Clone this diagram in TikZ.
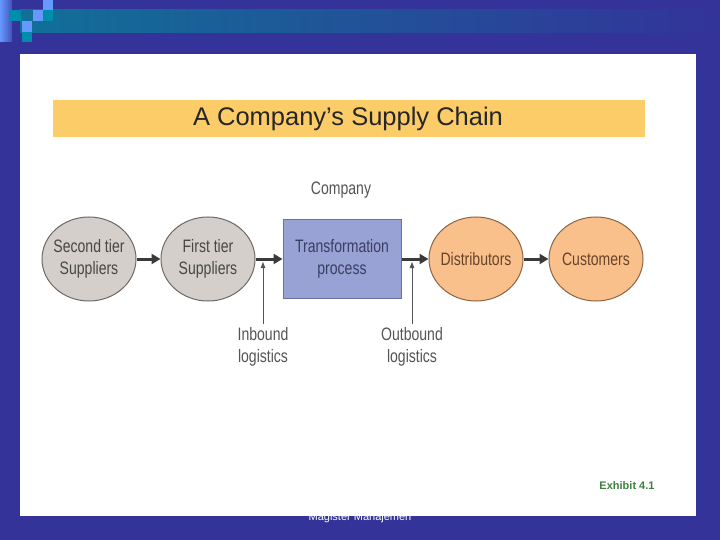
\documentclass[tikz,border=0pt]{standalone}
\usepackage{fontspec}
\setmainfont{Liberation Sans}
\newfontfamily\narrowfont[FakeStretch=0.78]{Liberation Sans}
\usetikzlibrary{shapes.geometric,arrows.meta}

\definecolor{slideblue}{RGB}{51,51,153}
\definecolor{bandteal}{RGB}{16,112,152}
\definecolor{tilelight}{RGB}{102,153,255}
\definecolor{tileteal}{RGB}{0,140,172}
\definecolor{titlebar}{RGB}{252,204,104}
\definecolor{supfill}{RGB}{212,207,202}
\definecolor{supline}{RGB}{110,105,100}
\definecolor{boxfill}{RGB}{152,162,212}
\definecolor{boxline}{RGB}{104,112,166}
\definecolor{outfill}{RGB}{250,192,140}
\definecolor{outline}{RGB}{140,100,70}
\definecolor{flowgray}{RGB}{58,58,58}
\definecolor{labelgray}{RGB}{85,85,85}
\definecolor{exhibitgreen}{RGB}{60,130,60}

\begin{document}
\begin{tikzpicture}[x=1pt, y=-1pt,
  stagefont/.style={font=\narrowfont\fontsize{18}{22}\selectfont},
  supplier/.style={ellipse, stagefont, fill=supfill, draw=supline, line width=1pt,
    minimum width=94pt, minimum height=84pt, inner sep=-5pt, align=center, text=black!72},
  outlet/.style={supplier, fill=outfill, draw=outline, text={rgb,255:red,105;green,68;blue,40}},
  process/.style={rectangle, stagefont, fill=boxfill, draw=boxline, line width=1pt,
    minimum width=118pt, minimum height=78pt, inner sep=0pt, align=center,
    text={rgb,255:red,58;green,62;blue,98}},
  note/.style={stagefont, align=center, text=labelgray, inner sep=3pt},
  flow/.style={draw=flowgray, line width=3pt, -{Triangle[length=9pt,width=10pt]}},
  feed/.style={draw=labelgray, line width=0.8pt, -{Triangle[length=6pt,width=4.5pt]}}]
  \useasboundingbox (0,0) rectangle (720,540);

  % slide background and header band
  \fill[slideblue] (0,0) rectangle (720,540);
  \shade[left color=bandteal, right color=slideblue] (20,10) rectangle (720,33);
  \shade[left color=tilelight, right color=slideblue!70!tilelight] (0,0) rectangle (12,42);
  \fill[tileteal] (10,10) rectangle (21,21);
  \fill[tilelight] (33,10) rectangle (43,21);
  \fill[tilelight] (43,0) rectangle (53,10);
  \fill[tileteal] (43,10) rectangle (53,21);
  \fill[tilelight] (22,21) rectangle (32,32);
  \fill[tileteal] (22,32) rectangle (32,42);

  % footer sits partly under the white panel
  \node[text=white, font=\fontsize{11}{13}\selectfont] (footer) at (360,518) {Magister Manajemen};
  \fill[white] (20,54) rectangle (696,516);

  % title
  \fill[titlebar] (53,100) rectangle (645,137);
  \node[font=\fontsize{25.5}{28}\selectfont, text=black!85] (title) at (348,119) {A Company's Supply Chain};

  % chain
  \node[supplier] (second) at (89,259) {Second tier\\Suppliers};
  \node[supplier] (first) at (208,259) {First tier\\Suppliers};
  \node[process] (transform) at (342,259) {Transformation\\process};
  \node[outlet] (dist) at (476,259) {Distributors};
  \node[outlet] (cust) at (596,259) {Customers};
  \node[note] (company) at (341,190) {Company};

  \draw[flow] (second) -- (first);
  \draw[flow] (first) -- (transform);
  \draw[flow] (transform) -- (dist);
  \draw[flow] (dist) -- (cust);

  % logistics labels
  \node[note] (inbound) at (263,347) {Inbound\\logistics};
  \node[note] (outbound) at (412,347) {Outbound\\logistics};
  \coordinate (inTip) at (263,262);
  \coordinate (outTip) at (412,262);
  \draw[feed] (inbound.north) -- (inTip);
  \draw[feed] (outbound.north) -- (outTip);

  \node[font=\bfseries\fontsize{11}{13}\selectfont, text=exhibitgreen] (exhibit) at (627,486) {Exhibit 4.1};
\end{tikzpicture}
\end{document}
